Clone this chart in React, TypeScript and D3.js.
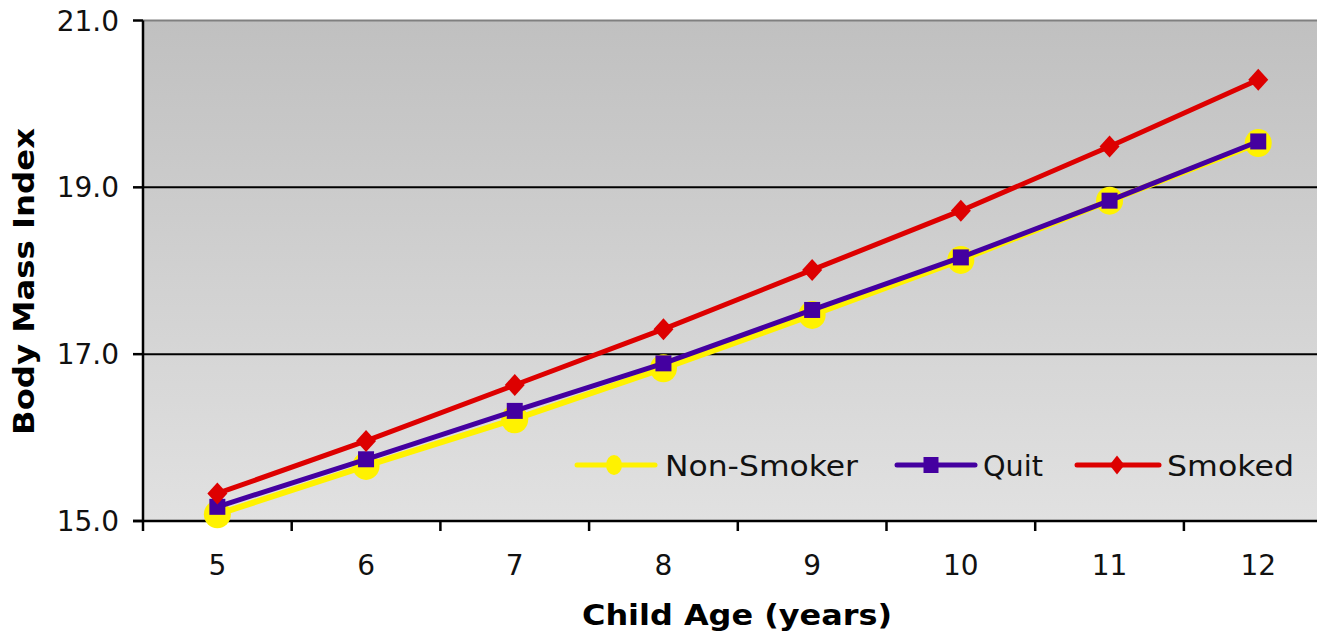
import React from "react";
import * as d3 from "d3";

const ages = ["5", "6", "7", "8", "9", "10", "11", "12"];
const nonSmoker = [15.08, 15.66, 16.22, 16.83, 17.47, 18.13, 18.84, 19.53];
const quit = [15.17, 15.74, 16.32, 16.89, 17.53, 18.16, 18.84, 19.55];
const smoked = [15.33, 15.96, 16.63, 17.3, 18.01, 18.72, 19.49, 20.29];
const yTicks = [15, 17, 19, 21];
const seriesNames = ["Non-Smoker", "Quit", "Smoked"];

const W = 1317;
const H = 634;
const left = 143;
const catW = 148.7;
const top = 20.5;
const bottom = 521;
const font = "'DejaVu Sans', Verdana, sans-serif";

export default function App() {
  const x = d3.scaleBand<string>().domain(ages).range([left, left + catW * ages.length]).padding(0);
  const y = d3.scaleLinear().domain([15, 21]).range([bottom, top]);
  const cx = (a: string) => (x(a) as number) + x.bandwidth() / 2;
  const line = d3
    .line<number>()
    .x((_, i) => cx(ages[i]))
    .y((d) => y(d));
  const right = left + catW * ages.length;

  const circle = (px: number, py: number, rx: number, ry: number, fill: string, key: string) => (
    <ellipse key={key} cx={px} cy={py} rx={rx} ry={ry} fill={fill} />
  );
  const square = (px: number, py: number, w: number, h: number, fill: string, key: string) => (
    <rect key={key} x={px - w / 2} y={py - h / 2} width={w} height={h} fill={fill} />
  );
  const diamond = (px: number, py: number, hw: number, hh: number, fill: string, key: string) => (
    <path
      key={key}
      d={`M${px},${py - hh}L${px + hw},${py}L${px},${py + hh}L${px - hw},${py}Z`}
      fill={fill}
    />
  );

  const yellow = "#fff200";
  const purple = "#4400a0";
  const red = "#dd0000";

  const legendItems = [
    { name: seriesNames[0], color: yellow, x1: 577, x2: 655, mx: 614, tx: 665, tl: 193 },
    { name: seriesNames[1], color: purple, x1: 897, x2: 975, mx: 931, tx: 983, tl: 60 },
    { name: seriesNames[2], color: red, x1: 1077, x2: 1159, mx: 1117, tx: 1167, tl: 127 },
  ];
  const ly = 465;

  return (
    <svg
      width={W}
      height={H}
      style={{ position: "absolute", left: 0, top: 0, background: "#fff" }}
      fontFamily={font}
    >
      <defs>
        <linearGradient id="bg" x1="0" y1="0" x2="0" y2="1">
          <stop offset="0" stopColor="#c0c0c0" />
          <stop offset="1" stopColor="#e1e1e1" />
        </linearGradient>
      </defs>
      <rect x={left} y={top} width={right - left} height={bottom - top} fill="url(#bg)" />
      {/* gridlines */}
      {yTicks
        .filter((t) => t !== 15)
        .map((t) => (
          <line
            key={t}
            x1={left}
            x2={right}
            y1={y(t)}
            y2={y(t)}
            stroke={t === 21 ? "#808080" : "#000"}
            strokeWidth={2}
          />
        ))}
      {/* axes */}
      <line x1={left} x2={left} y1={top} y2={bottom} stroke="#000" strokeWidth={2.5} />
      <line x1={left - 10} x2={right} y1={bottom} y2={bottom} stroke="#000" strokeWidth={2.5} />
      {yTicks.map((t) => (
        <g key={t}>
          <line x1={left - 10} x2={left} y1={y(t)} y2={y(t)} stroke="#000" strokeWidth={2.5} />
          <text x={119} y={y(t)} dy="0.36em" textAnchor="end" fontSize={28} fill="#111">
            {t.toFixed(1)}
          </text>
        </g>
      ))}
      {d3.range(ages.length + 1).map((i) => (
        <line
          key={i}
          x1={left + i * x.bandwidth()}
          x2={left + i * x.bandwidth()}
          y1={bottom}
          y2={bottom + 10}
          stroke="#000"
          strokeWidth={2.5}
        />
      ))}
      {ages.map((a) => (
        <text key={a} x={cx(a)} y={575} textAnchor="middle" fontSize={28} fill="#111">
          {a}
        </text>
      ))}
      {/* series */}
      <path d={line(nonSmoker) || ""} fill="none" stroke={yellow} strokeWidth={6} />
      {nonSmoker.map((v, i) => circle(cx(ages[i]), y(v), 13.5, 14, yellow, "n" + i))}
      <path d={line(quit) || ""} fill="none" stroke={purple} strokeWidth={5} />
      {quit.map((v, i) => square(cx(ages[i]), y(v), 16, 16, purple, "q" + i))}
      <path d={line(smoked) || ""} fill="none" stroke={red} strokeWidth={5} />
      {smoked.map((v, i) => diamond(cx(ages[i]), y(v), 10, 11, red, "s" + i))}
      {/* legend */}
      {legendItems.map((it, i) => (
        <g key={it.name}>
          <line x1={it.x1} x2={it.x2} y1={ly} y2={ly} stroke={it.color} strokeWidth={5} strokeLinecap="round" />
          {i === 0 && circle(it.mx, ly, 8, 10, it.color, "lc")}
          {i === 1 && square(it.mx, ly, 15, 16, it.color, "ls")}
          {i === 2 && diamond(it.mx, ly, 7.5, 9.5, it.color, "ld")}
          <text
            x={it.tx}
            y={476}
            fontSize={29}
            fill="#111"
            textLength={it.tl}
            lengthAdjust="spacingAndGlyphs"
          >
            {it.name}
          </text>
        </g>
      ))}
      {/* axis titles */}
      <text
        x={737}
        y={625}
        textAnchor="middle"
        fontSize={28}
        fontWeight="bold"
        fill="#000"
        textLength={310}
        lengthAdjust="spacingAndGlyphs"
      >
        Child Age (years)
      </text>
      <text
        transform="translate(34,281.5) rotate(-90)"
        textAnchor="middle"
        fontSize={28}
        fontWeight="bold"
        fill="#000"
        textLength={307}
        lengthAdjust="spacingAndGlyphs"
      >
        Body Mass Index
      </text>
    </svg>
  );
}
